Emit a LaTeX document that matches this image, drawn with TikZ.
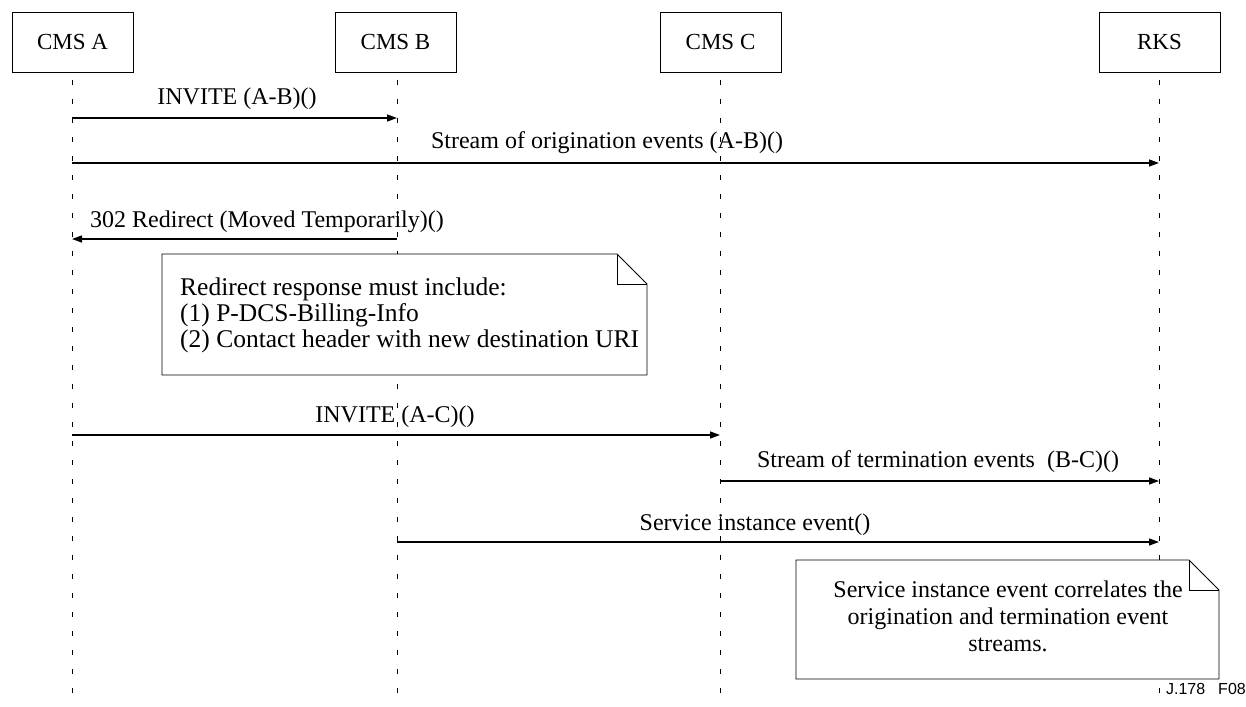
\documentclass[tikz,border=0pt]{standalone}
\usepackage{fontspec}
\setmainfont{Liberation Serif}
\newfontfamily\arialfont{Liberation Sans}
\usetikzlibrary{arrows.meta}
\begin{document}
\begin{tikzpicture}[x=1pt,y=-1pt,
  font=\fontsize{24}{26}\selectfont,
  head/.style={draw,line width=0.9pt,minimum width=121pt,minimum height=60pt,inner sep=0pt,font=\fontsize{23}{26}\selectfont},
  life/.style={line width=1pt,dash pattern=on 5pt off 14pt},
  msg/.style={line width=1.3pt,-{Triangle[length=10pt,width=7pt]}},
  lbl/.style={anchor=base,inner sep=0pt},
  notebox/.style={draw,line width=0.9pt,fill=white}]
\useasboundingbox (0,0) rectangle (1246,706);
% headers
\node[head] (A) at (72.5,42) {CMS A};
\node[head] (B) at (395.5,42) {CMS B};
\node[head] (C) at (720.5,42) {CMS C};
\node[head] (R) at (1159.5,42) {RKS};
% lifeline ends
\coordinate (Ae) at (72,706);
\coordinate (Be) at (397,706);
\coordinate (Ce) at (720,706);
\coordinate (Re) at (1159,706);
\draw[life] (72,80) -- (Ae);
\draw[life] (397,80) -- (Be);
\draw[life] (720,80) -- (Ce);
\draw[life] (1159,80) -- (Re);
% message endpoints
\coordinate (m1a) at (72,118);  \coordinate (m1b) at (397,118);
\coordinate (m2a) at (72,163);  \coordinate (m2b) at (1159,163);
\coordinate (m3a) at (397,239); \coordinate (m3b) at (72,239);
\coordinate (m5a) at (72,435);  \coordinate (m5b) at (720,435);
\coordinate (m6a) at (720,481); \coordinate (m6b) at (1159,481);
\coordinate (m7a) at (397,542); \coordinate (m7b) at (1159,542);
\draw[msg] (m1a) -- (m1b);
\node[lbl] (l1) at (237,105) {INVITE (A-B)()};
\draw[msg] (m2a) -- (m2b);
\node[lbl] (l2) at (607,148) {Stream of origination events (A-B)()};
\draw[msg] (m3a) -- (m3b);
\node[lbl] (l3) at (267,227) {302 Redirect (Moved Temporarily)()};
% note 1
\draw[notebox] (162,254) -- (617,254) -- (647,284) -- (647,375) -- (162,375) -- cycle;
\draw[line width=0.9pt] (617,254) -- (617,284) -- (647,284);
\node[anchor=north west,align=left,inner sep=0pt,font=\fontsize{25.5}{26}\selectfont] (n1) at (180,278)
  {Redirect response must include:\\(1) P-DCS-Billing-Info\\(2) Contact header with new destination URI};
\draw[msg] (m5a) -- (m5b);
\node[lbl] (l5) at (395,422) {INVITE (A-C)()};
\draw[msg] (m6a) -- (m6b);
\node[lbl] (l6) at (938,467) {Stream of termination events\ \ (B-C)()};
\draw[msg] (m7a) -- (m7b);
\node[lbl] (l7) at (755,530) {Service instance event()};
% note 2
\draw[notebox] (796,560) -- (1189,560) -- (1219,590) -- (1219,679) -- (796,679) -- cycle;
\draw[line width=0.9pt] (1189,560) -- (1189,590) -- (1219,590);
\node[anchor=north,align=center,inner sep=0pt,font=\fontsize{24}{27}\selectfont] (n2) at (1008,581)
  {Service instance event correlates the\\origination and termination event\\streams.};
\node[anchor=base east,inner sep=0pt,font=\arialfont\fontsize{16}{18}\selectfont] (fig) at (1246,694) {J.178\hspace{13pt}F08};
\end{tikzpicture}
\end{document}
